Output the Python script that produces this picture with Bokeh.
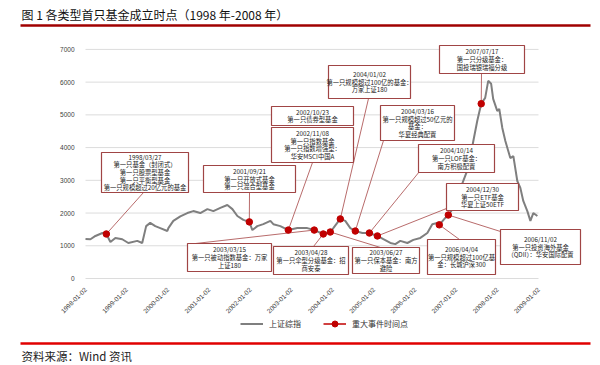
import math
import pandas as pd
from bokeh.plotting import figure
from bokeh.models import (Range1d, FixedTicker, DatetimeTickFormatter, Legend, LegendItem)
from bokeh.embed import file_html
from bokeh.resources import INLINE
from bokeh.core.properties import value

# ---------------- data ----------------
title_text = "图 1 各类型首只基金成立时点（1998 年-2008 年）"
source_text = "资料来源：Wind 资讯"

sse_dates = [
    "1998-01-02", "1998-02-15", "1998-03-31", "1998-06-01", "1998-07-06", "1998-08-11", "1998-09-24", "1998-11-24",
    "1999-01-17", "1999-04-06", "1999-05-20", "1999-06-24", "1999-07-30", "1999-09-13", "1999-10-27", "1999-12-29",
    "2000-01-07", "2000-02-20", "2000-04-22", "2000-06-23", "2000-08-15", "2000-10-16", "2000-12-18",
    "2001-02-09", "2001-04-12", "2001-06-13", "2001-07-28", "2001-09-10", "2001-11-02", "2001-12-25",
    "2002-01-21", "2002-03-06", "2002-04-28", "2002-06-30", "2002-07-26", "2002-09-26", "2002-12-06",
    "2003-02-24", "2003-05-23", "2003-07-24", "2003-10-12", "2003-12-13",
    "2004-01-09", "2004-02-13", "2004-03-11", "2004-04-24", "2004-06-08", "2004-07-22", "2004-09-23", "2004-11-24",
    "2005-02-03", "2005-03-28", "2005-05-29", "2005-07-12", "2005-08-25", "2005-10-27", "2005-12-19",
    "2006-02-19", "2006-04-22", "2006-06-05", "2006-07-19", "2006-08-06", "2006-09-28", "2006-10-25", "2006-12-08",
    "2007-01-22", "2007-03-07", "2007-04-20", "2007-06-04", "2007-07-09", "2007-08-13", "2007-09-17", "2007-10-14",
    "2007-11-09", "2007-11-27",
    "2008-01-02", "2008-01-20", "2008-02-16", "2008-03-14", "2008-04-27", "2008-05-24", "2008-06-28", "2008-07-25",
    "2008-08-20", "2008-09-25", "2008-10-22", "2008-11-17", "2008-12-23",
]
sse_close = [
    1208, 1200, 1300, 1390, 1360, 1116, 1240, 1200,
    1085, 1150, 1085, 1600, 1700, 1600, 1540, 1450,
    1540, 1760, 1900, 2000, 2060, 2000, 2120,
    2060, 2160, 2245, 2120, 1910, 1790, 1730,
    1480, 1600, 1660, 1760, 1660, 1600, 1480,
    1540, 1540, 1480, 1360, 1420,
    1540, 1700, 1820, 1760, 1540, 1450, 1390, 1390,
    1300, 1200, 1085, 1050, 1150, 1085, 1180,
    1240, 1390, 1660, 1700, 1640, 1850, 1940, 2150,
    2580, 2980, 3380, 4200, 4820, 5340, 5520, 6040,
    5950, 5490,
    5120, 5180, 4600, 4200, 3680, 3740, 2980, 2770,
    2370, 2060, 1760, 2000, 1910,
]

event_dates = ["1998-07-06", "2001-12-25", "2002-12-06", "2003-07-24", "2003-10-12", "2003-12-13",
               "2004-03-11", "2004-07-22", "2004-11-24", "2005-02-03", "2006-08-06", "2006-10-25", "2007-08-13"]
event_values = [1360, 1730, 1480, 1480, 1360, 1420, 1820, 1450, 1390, 1300, 1640, 1940, 5340]

note_dates = ["1998/03/27", "2001/09/21", "2002/10/23", "2002/11/08", "2003/03/15", "2003/04/28", "2003/06/27",
              "2004/01/02", "2004/03/16", "2004/10/14", "2004/12/30", "2006/04/04", "2006/11/02", "2007/07/17"]
note_texts = [
    ["第一只基金（封闭式）", "第一只股票型基金", "第一只平衡型基金", "第一只规模超过20亿元的基金"],
    ["第一只开放式基金", "第一只混合型基金"],
    ["第一只债券型基金"],
    ["第一只指数基金", "第一只指数增强型：", "华安MSCI中国A"],
    ["第一只被动指数基金：万家", "上证180"],
    ["第一只伞型分级基金：招", "商安泰"],
    ["第一只保本基金：南方", "避险"],
    ["第一只规模超过100亿的基金：", "万家上证180"],
    ["第一只规模超过50亿元的", "基金：", "华夏经典配置"],
    ["第一只LOF基金：", "南方积极配置"],
    ["第一只ETF基金", "华夏上证50ETF"],
    ["第一只规模超过100亿基", "金：长城沪深300"],
    ["第一只投资海外基金", "（QDII）：华安国际配置"],
    ["第一只分级基金：", "国投瑞银瑞福分级"],
]
note_event = [0, 1, None, 2, 3, 4, 5, 6, 7, 8, 9, 10, 11, 12]

y_ticks = [0, 1000, 2000, 3000, 4000, 5000, 6000, 7000]
x_tick_labels = ["1998-01-02", "1999-01-02", "2000-01-02", "2001-01-02", "2002-01-02", "2003-01-02",
                 "2004-01-02", "2005-01-02", "2006-01-02", "2007-01-02", "2008-01-02", "2009-01-02"]

legend_labels = ["上证综指", "重大事件时间点"]

# ---------------- layout (page pixels) ----------------
W, H = 600, 365
PLOT_L, PLOT_R, PLOT_T, PLOT_B = 85, 538, 44, 278   # where the chart area sits
Y_MAX = 7150
note_boxes = [(101, 152, 188, 192), (203, 165, 295, 192), (271, 106, 353, 125), (271, 127, 353, 162),
              (187, 243, 271, 271), (273, 246, 348, 274), (352, 247, 419, 273), (328, 65, 410, 98),
              (380, 105, 454, 140), (418, 144, 494, 172), (446, 183, 518, 210), (427, 239, 495, 274),
              (500, 229, 580, 264), (439, 45, 524, 73)]
note_anchor = [(143, 192), (249, 192), None, (312, 162), (195, 243), (313, 246), (380, 247), (368, 98),
               (383, 140), (419, 171), (446, 208), (459, 239), (500, 231), (481, 73)]

CJK = "Noto Sans CJK SC"


def ms(d):
    return pd.Timestamp(d).value / 1e6


X0 = ms(x_tick_labels[0])
X1 = ms(x_tick_labels[-1])


def px_x(px):
    return X0 + (px - PLOT_L) / (PLOT_R - PLOT_L) * (X1 - X0)


def px_y(py):
    return (PLOT_B - py) / (PLOT_B - PLOT_T) * Y_MAX


p = figure(width=W, height=H, x_axis_type="datetime",
           x_range=Range1d(px_x(0), px_x(W)), y_range=Range1d(px_y(H), px_y(0)),
           toolbar_location=None, output_backend="svg",
           min_border_left=0, min_border_right=0, min_border_top=0, min_border_bottom=0)
p.outline_line_color = None
p.xgrid.visible = False
p.ygrid.visible = False
p.background_fill_color = "white"

# horizontal grid lines, only across the chart area
p.segment(x0=[X0] * len(y_ticks), y0=y_ticks, x1=[X1] * len(y_ticks), y1=y_ticks,
          line_color="#DCDCDC", line_width=1)

p.yaxis.fixed_location = X0
p.yaxis.ticker = FixedTicker(ticks=y_ticks)
p.yaxis.axis_line_color = None
p.yaxis.major_tick_line_color = None
p.yaxis.minor_tick_line_color = None
p.yaxis.major_label_text_font = "Liberation Sans"
p.yaxis.major_label_text_font_size = "6.5px"
p.yaxis.major_label_text_color = "#404040"
p.yaxis.major_label_standoff = 5

x_ticks = [ms(t) for t in x_tick_labels]
p.xaxis.fixed_location = 0
p.xaxis.ticker = FixedTicker(ticks=x_ticks)
p.xaxis.formatter = DatetimeTickFormatter(years="%Y-%m-%d", months="%Y-%m-%d", days="%Y-%m-%d")
p.xaxis.major_label_orientation = math.pi / 4
p.xaxis.axis_line_color = None
p.xaxis.major_tick_line_color = None
p.xaxis.minor_tick_line_color = None
p.xaxis.major_label_text_font = "Liberation Sans"
p.xaxis.major_label_text_font_size = "6.5px"
p.xaxis.major_label_text_color = "#404040"
p.xaxis.major_label_standoff = 4

sx = [pd.Timestamp(d) for d in sse_dates]
ex = [pd.Timestamp(d) for d in event_dates]

line_r = p.line(sx, sse_close, line_color="#7F7F7F", line_width=2)

# leader lines from notes to event points
lx0, ly0, lx1, ly1 = [], [], [], []
for anc, ev in zip(note_anchor, note_event):
    if anc is None or ev is None:
        continue
    lx0.append(px_x(anc[0]))
    ly0.append(px_y(anc[1]))
    lx1.append(ms(event_dates[ev]))
    ly1.append(event_values[ev])
p.segment(x0=lx0, y0=ly0, x1=lx1, y1=ly1, line_color="#B05A5A", line_width=0.9)

ev_line = p.line(ex, event_values, line_color="#C00000", line_width=1.5, visible=False)
ev_dot = p.scatter(ex, event_values, size=6.5, fill_color="#C00000", line_color="#C00000")

# note boxes
LINE_H = 7.6
bl, br, bt, bb = [], [], [], []
tx, ty, tt = [], [], []
for d, texts, box in zip(note_dates, note_texts, note_boxes):
    x0, y0, x1, y1 = box
    bl.append(px_x(x0)); br.append(px_x(x1)); bt.append(px_y(y0)); bb.append(px_y(y1))
    lines = [d] + texts
    n = len(lines)
    cy = (y0 + y1) / 2
    cx = px_x((x0 + x1) / 2)
    for i, t in enumerate(lines):
        tx.append(cx)
        ty.append(px_y(cy + (i - (n - 1) / 2) * LINE_H))
        tt.append(t)
p.quad(left=bl, right=br, top=bt, bottom=bb, fill_color="white", line_color="#A04545", line_width=1.2)
p.text(x=tx, y=ty, text=tt, text_align="center", text_baseline="middle",
       text_font=value(CJK), text_font_size="6.3px", text_color="#222222")

# header / footer
p.text(x=[px_x(21)], y=[px_y(14)], text=[title_text], text_align="left", text_baseline="middle",
       text_font=value(CJK), text_font_size="12px", text_color="#111111")
p.segment(x0=[px_x(20)], y0=[px_y(25)], x1=[px_x(590)], y1=[px_y(25)], line_color="#A00000", line_width=2.4)
p.segment(x0=[px_x(20)], y0=[px_y(343)], x1=[px_x(590)], y1=[px_y(343)], line_color="#E00000", line_width=2.4)
p.text(x=[px_x(21)], y=[px_y(355)], text=[source_text], text_align="left", text_baseline="middle",
       text_font=value(CJK), text_font_size="11.5px", text_color="#222222")

legend = Legend(items=[LegendItem(label=legend_labels[0], renderers=[line_r]),
                       LegendItem(label=legend_labels[1], renderers=[ev_line, ev_dot])],
                orientation="horizontal", location=(240, H - 331),
                label_text_font=CJK, label_text_font_size="8px", label_text_color="#333333",
                glyph_width=23, glyph_height=15, spacing=22, label_standoff=6,
                border_line_color=None, background_fill_alpha=0, inactive_fill_alpha=0,
                padding=0, margin=0)
p.add_layout(legend, "center")

open("out.html", "w").write(file_html(p, INLINE))
